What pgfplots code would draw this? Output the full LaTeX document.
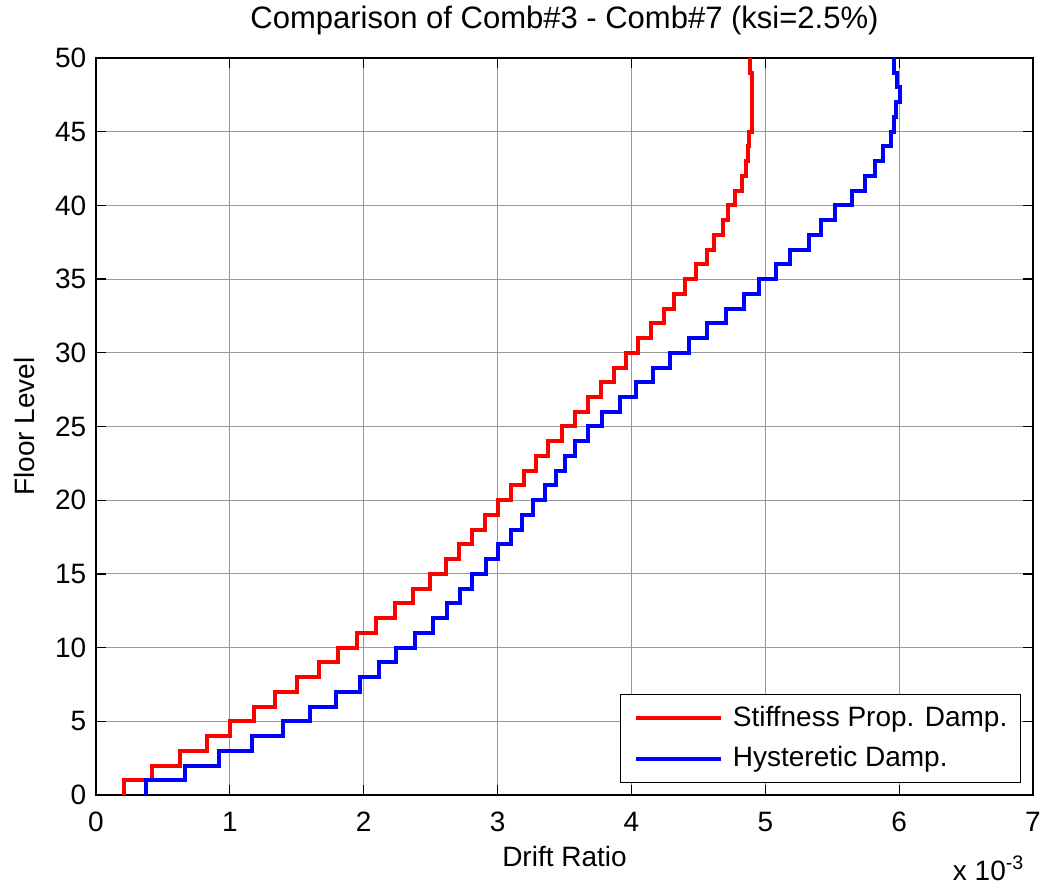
\documentclass[border=0pt]{standalone}
\usepackage{fontspec}
\setmainfont{Liberation Sans}
\usepackage{pgfplots}
\pgfplotsset{compat=1.18}

\begin{document}
\fontsize{14}{17}\selectfont
\begin{tikzpicture}
\begin{axis}[
  scale only axis, width=468.5pt, height=368.5pt,
  at={(0,0)}, anchor=south west,
  xmin=0, xmax=7, ymin=0, ymax=50,
  xtick={0,1,2,3,4,5,6,7}, ytick={0,5,10,15,20,25,30,35,40,45,50},
  tick align=inside, tick pos=both, major tick length=5pt,
  grid=major, grid style={black!40, line width=0.5pt},
  axis line style={line width=0.6pt},
  every tick/.style={black, line width=0.6pt},
  /pgf/number format/assume math mode=true,
  ticklabel style={font=\fontsize{14}{17}\selectfont},
  xticklabel style={yshift=-3.5pt},
  title={Comparison of Comb\#3 - Comb\#7 (ksi=2.5\%)},
  title style={font=\fontsize{15.5}{18}\selectfont, at={(axis description cs:0.5,1.0244)}, anchor=base},
  xlabel={Drift Ratio},
  xlabel style={font=\fontsize{14}{17}\selectfont, at={(axis description cs:0.5,-0.0828)}, anchor=center},
  ylabel={Floor Level},
  ylabel style={font=\fontsize{14}{17}\selectfont, at={(axis description cs:-0.0758,0.5)}, anchor=center},
  legend cell align=left,
  legend image code/.code={\draw[#1] (0pt,0pt) -- (42.5pt,0pt);},
  legend style={at={(0.987,0.0163)}, anchor=south east, draw=black, fill=white,
    line width=0.5pt, font=\fontsize{14}{17}\selectfont,
    nodes={inner sep=0pt}, inner xsep=6.5pt, inner ysep=5.8pt, row sep=7.9pt,
    /tikz/every odd column/.append style={column sep=5pt}},
]
\addplot[red, line width=2pt] coordinates {
(0.21,0)(0.21,1)(0.418,1)(0.418,2)(0.627,2)(0.627,3)(0.826,3)(0.826,4)(1.0,4)(1.0,5)
(1.18,5)(1.18,6)(1.338,6)(1.338,7)(1.498,7)(1.498,8)(1.664,8)(1.664,9)(1.808,9)(1.808,10)
(1.953,10)(1.953,11)(2.095,11)(2.095,12)(2.236,12)(2.236,13)(2.368,13)(2.368,14)(2.498,14)(2.498,15)
(2.615,15)(2.615,16)(2.711,16)(2.711,17)(2.808,17)(2.808,18)(2.903,18)(2.903,19)(3.002,19)(3.002,20)
(3.097,20)(3.097,21)(3.194,21)(3.194,22)(3.289,22)(3.289,23)(3.38,23)(3.38,24)(3.482,24)(3.482,25)
(3.578,25)(3.578,26)(3.677,26)(3.677,27)(3.775,27)(3.775,28)(3.87,28)(3.87,29)(3.957,29)(3.957,30)
(4.047,30)(4.047,31)(4.146,31)(4.146,32)(4.24,32)(4.24,33)(4.321,33)(4.321,34)(4.403,34)(4.403,35)
(4.483,35)(4.483,36)(4.562,36)(4.562,37)(4.614,37)(4.614,38)(4.681,38)(4.681,39)(4.719,39)(4.719,40)
(4.776,40)(4.776,41)(4.823,41)(4.823,42)(4.856,42)(4.856,43)(4.868,43)(4.868,44)(4.882,44)(4.882,45)
(4.898,45)(4.898,46)(4.898,46)(4.898,47)(4.898,47)(4.898,48)(4.898,48)(4.898,49)(4.886,49)(4.886,50)
};
\addlegendentry{Stiffness Prop. Damp.}
\addplot[blue, line width=2pt] coordinates {
(0.371,0)(0.371,1)(0.664,1)(0.664,2)(0.92,2)(0.92,3)(1.166,3)(1.166,4)(1.398,4)(1.398,5)
(1.597,5)(1.597,6)(1.796,6)(1.796,7)(1.97,7)(1.97,8)(2.114,8)(2.114,9)(2.239,9)(2.239,10)
(2.386,10)(2.386,11)(2.517,11)(2.517,12)(2.624,12)(2.624,13)(2.716,13)(2.716,14)(2.81,14)(2.81,15)
(2.91,15)(2.91,16)(3.003,16)(3.003,17)(3.097,17)(3.097,18)(3.184,18)(3.184,19)(3.264,19)(3.264,20)
(3.351,20)(3.351,21)(3.433,21)(3.433,22)(3.5,22)(3.5,23)(3.578,23)(3.578,24)(3.674,24)(3.674,25)
(3.78,25)(3.78,26)(3.917,26)(3.917,27)(4.033,27)(4.033,28)(4.16,28)(4.16,29)(4.287,29)(4.287,30)
(4.433,30)(4.433,31)(4.566,31)(4.566,32)(4.706,32)(4.706,33)(4.838,33)(4.838,34)(4.955,34)(4.955,35)
(5.08,35)(5.08,36)(5.184,36)(5.184,37)(5.323,37)(5.323,38)(5.416,38)(5.416,39)(5.522,39)(5.522,40)
(5.647,40)(5.647,41)(5.746,41)(5.746,42)(5.821,42)(5.821,43)(5.881,43)(5.881,44)(5.938,44)(5.938,45)
(5.963,45)(5.963,46)(5.98,46)(5.98,47)(6.005,47)(6.005,48)(5.987,48)(5.987,49)(5.963,49)(5.963,50)
};
\addlegendentry{Hysteretic Damp.}
\end{axis}
\node[anchor=base east, font=\fontsize{14}{17}\selectfont] at (469pt,-42.5pt) {x 10\textsuperscript{-3}};
\pgfresetboundingbox
\useasboundingbox (-48pt,-44.5pt) rectangle (473.5pt,397.5pt);
\end{tikzpicture}
\end{document}
